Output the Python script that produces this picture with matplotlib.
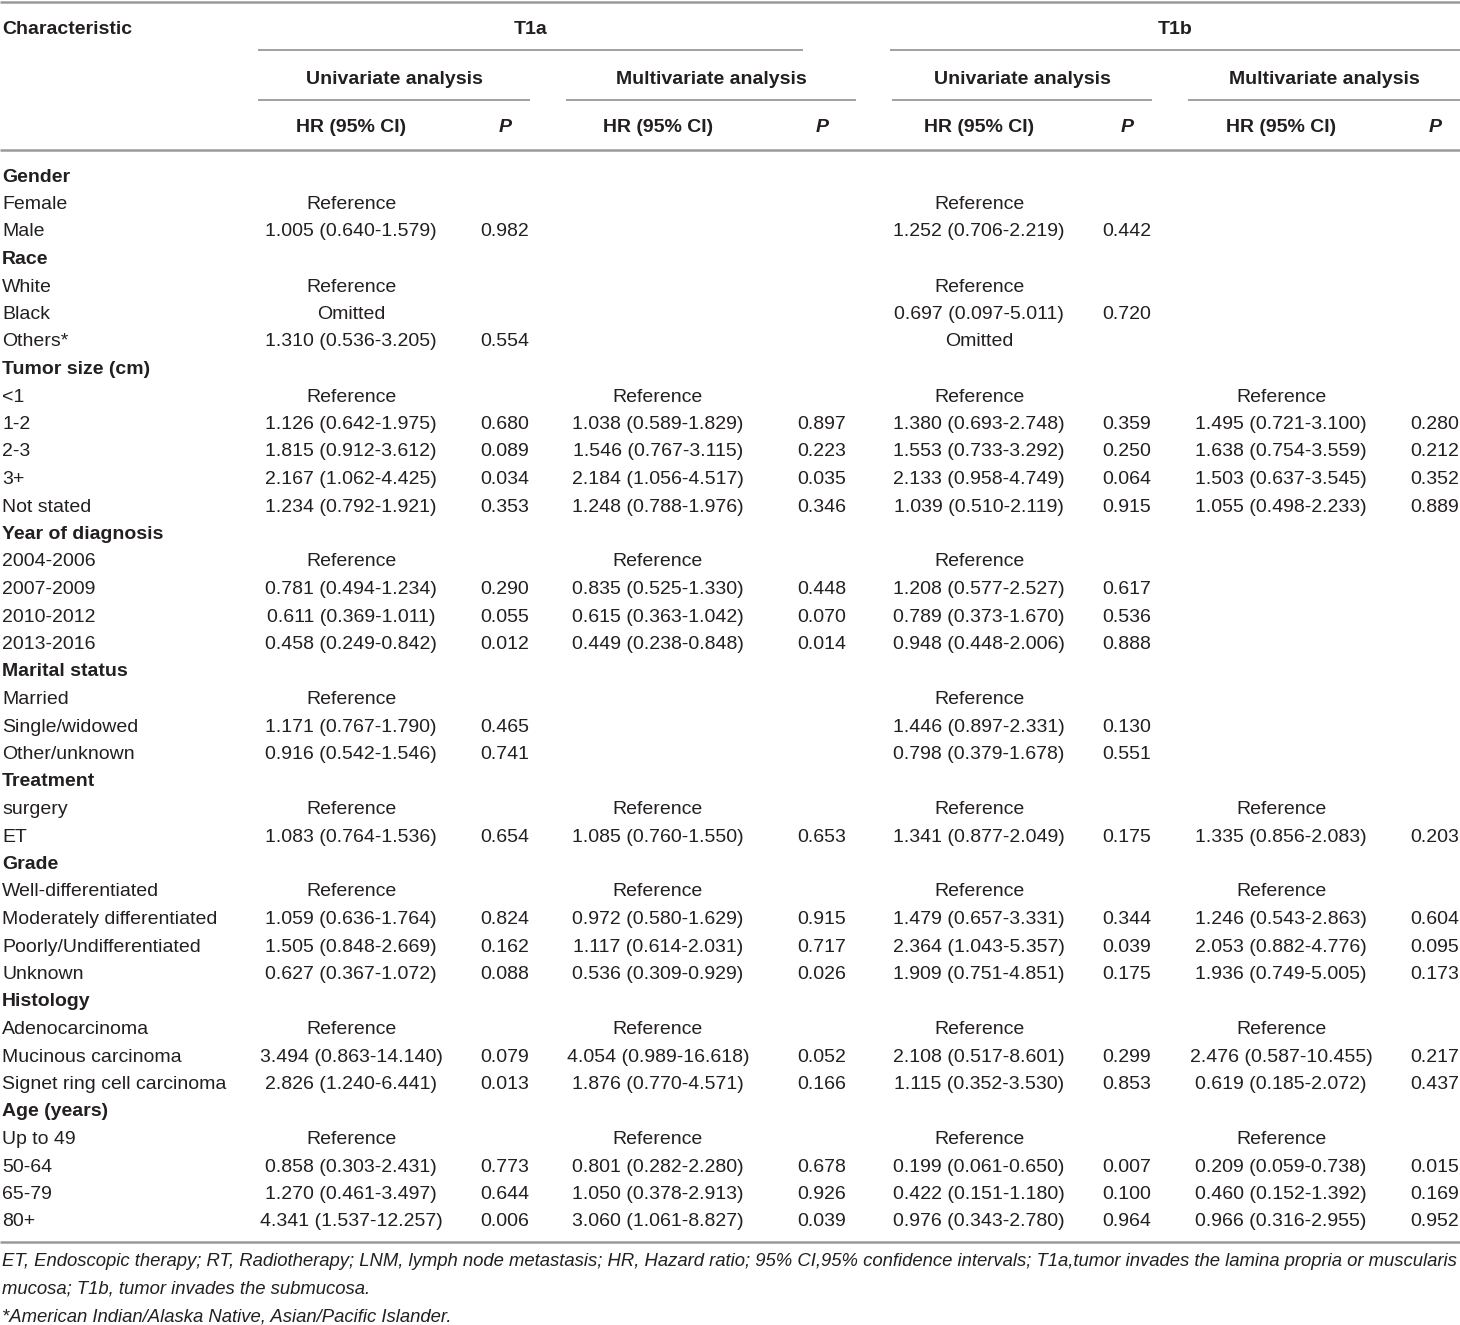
import matplotlib
matplotlib.use("Agg")
import matplotlib.pyplot as plt
from matplotlib import font_manager

names = {f.name for f in font_manager.fontManager.ttflist}
FONT = "Liberation Sans Narrow" if "Liberation Sans Narrow" in names else "Liberation Sans"
plt.rcParams["font.family"] = [FONT, "DejaVu Sans"]

# --- table content ---
row_labels = [
    "Gender", "Female", "Male",
    "Race", "White", "Black", "Others*",
    "Tumor size (cm)", "<1", "1-2", "2-3", "3+", "Not stated",
    "Year of diagnosis", "2004-2006", "2007-2009", "2010-2012", "2013-2016",
    "Marital status", "Married", "Single/widowed", "Other/unknown",
    "Treatment", "surgery", "ET",
    "Grade", "Well-differentiated", "Moderately differentiated",
    "Poorly/Undifferentiated", "Unknown",
    "Histology", "Adenocarcinoma", "Mucinous carcinoma", "Signet ring cell carcinoma",
    "Age (years)", "Up to 49", "50-64", "65-79", "80+",
]
group_rows = ["Gender", "Race", "Tumor size (cm)", "Year of diagnosis",
              "Marital status", "Treatment", "Grade", "Histology", "Age (years)"]

t1a_uni_hr = [
    "", "Reference", "1.005 (0.640-1.579)",
    "", "Reference", "Omitted", "1.310 (0.536-3.205)",
    "", "Reference", "1.126 (0.642-1.975)", "1.815 (0.912-3.612)", "2.167 (1.062-4.425)", "1.234 (0.792-1.921)",
    "", "Reference", "0.781 (0.494-1.234)", "0.611 (0.369-1.011)", "0.458 (0.249-0.842)",
    "", "Reference", "1.171 (0.767-1.790)", "0.916 (0.542-1.546)",
    "", "Reference", "1.083 (0.764-1.536)",
    "", "Reference", "1.059 (0.636-1.764)", "1.505 (0.848-2.669)", "0.627 (0.367-1.072)",
    "", "Reference", "3.494 (0.863-14.140)", "2.826 (1.240-6.441)",
    "", "Reference", "0.858 (0.303-2.431)", "1.270 (0.461-3.497)", "4.341 (1.537-12.257)",
]
t1a_uni_p = [
    "", "", "0.982",
    "", "", "", "0.554",
    "", "", "0.680", "0.089", "0.034", "0.353",
    "", "", "0.290", "0.055", "0.012",
    "", "", "0.465", "0.741",
    "", "", "0.654",
    "", "", "0.824", "0.162", "0.088",
    "", "", "0.079", "0.013",
    "", "", "0.773", "0.644", "0.006",
]
t1a_multi_hr = [
    "", "", "",
    "", "", "", "",
    "", "Reference", "1.038 (0.589-1.829)", "1.546 (0.767-3.115)", "2.184 (1.056-4.517)", "1.248 (0.788-1.976)",
    "", "Reference", "0.835 (0.525-1.330)", "0.615 (0.363-1.042)", "0.449 (0.238-0.848)",
    "", "", "", "",
    "", "Reference", "1.085 (0.760-1.550)",
    "", "Reference", "0.972 (0.580-1.629)", "1.117 (0.614-2.031)", "0.536 (0.309-0.929)",
    "", "Reference", "4.054 (0.989-16.618)", "1.876 (0.770-4.571)",
    "", "Reference", "0.801 (0.282-2.280)", "1.050 (0.378-2.913)", "3.060 (1.061-8.827)",
]
t1a_multi_p = [
    "", "", "",
    "", "", "", "",
    "", "", "0.897", "0.223", "0.035", "0.346",
    "", "", "0.448", "0.070", "0.014",
    "", "", "", "",
    "", "", "0.653",
    "", "", "0.915", "0.717", "0.026",
    "", "", "0.052", "0.166",
    "", "", "0.678", "0.926", "0.039",
]
t1b_uni_hr = [
    "", "Reference", "1.252 (0.706-2.219)",
    "", "Reference", "0.697 (0.097-5.011)", "Omitted",
    "", "Reference", "1.380 (0.693-2.748)", "1.553 (0.733-3.292)", "2.133 (0.958-4.749)", "1.039 (0.510-2.119)",
    "", "Reference", "1.208 (0.577-2.527)", "0.789 (0.373-1.670)", "0.948 (0.448-2.006)",
    "", "Reference", "1.446 (0.897-2.331)", "0.798 (0.379-1.678)",
    "", "Reference", "1.341 (0.877-2.049)",
    "", "Reference", "1.479 (0.657-3.331)", "2.364 (1.043-5.357)", "1.909 (0.751-4.851)",
    "", "Reference", "2.108 (0.517-8.601)", "1.115 (0.352-3.530)",
    "", "Reference", "0.199 (0.061-0.650)", "0.422 (0.151-1.180)", "0.976 (0.343-2.780)",
]
t1b_uni_p = [
    "", "", "0.442",
    "", "", "0.720", "",
    "", "", "0.359", "0.250", "0.064", "0.915",
    "", "", "0.617", "0.536", "0.888",
    "", "", "0.130", "0.551",
    "", "", "0.175",
    "", "", "0.344", "0.039", "0.175",
    "", "", "0.299", "0.853",
    "", "", "0.007", "0.100", "0.964",
]
t1b_multi_hr = [
    "", "", "",
    "", "", "", "",
    "", "Reference", "1.495 (0.721-3.100)", "1.638 (0.754-3.559)", "1.503 (0.637-3.545)", "1.055 (0.498-2.233)",
    "", "", "", "", "",
    "", "", "", "",
    "", "Reference", "1.335 (0.856-2.083)",
    "", "Reference", "1.246 (0.543-2.863)", "2.053 (0.882-4.776)", "1.936 (0.749-5.005)",
    "", "Reference", "2.476 (0.587-10.455)", "0.619 (0.185-2.072)",
    "", "Reference", "0.209 (0.059-0.738)", "0.460 (0.152-1.392)", "0.966 (0.316-2.955)",
]
t1b_multi_p = [
    "", "", "",
    "", "", "", "",
    "", "", "0.280", "0.212", "0.352", "0.889",
    "", "", "", "", "",
    "", "", "", "",
    "", "", "0.203",
    "", "", "0.604", "0.095", "0.173",
    "", "", "0.217", "0.437",
    "", "", "0.015", "0.169", "0.952",
]

footnotes = [
    "ET, Endoscopic therapy; RT, Radiotherapy; LNM, lymph node metastasis; HR, Hazard ratio; 95% CI,95% confidence intervals; T1a,tumor invades the lamina propria or muscularis",
    "mucosa; T1b, tumor invades the submucosa.",
    "*American Indian/Alaska Native, Asian/Pacific Islander.",
]

# --- layout (pixel coordinates) ---
W, H = 1460, 1325
fig = plt.figure(figsize=(W / 100, H / 100), dpi=100)
ax = fig.add_axes([0, 0, 1, 1])
ax.set_xlim(0, W)
ax.set_ylim(H, 0)
ax.axis("off")

FS = 14
TXT = "#231f20"
LINE = "#9a9a9a"

def hline(x0, x1, y, lw=1.3):
    ax.plot([x0, x1], [y, y], color=LINE, lw=lw, solid_capstyle="butt")

# rules
hline(0, W, 1.5, 1.8)
hline(258, 803, 50)
hline(890, W, 50)
for x0, x1 in [(258, 530), (566, 856), (892, 1152), (1188, W)]:
    hline(x0, x1, 100)
hline(0, W, 150, 1.8)
hline(0, W, 1242, 1.8)

# header
ax.text(2, 29, "Characteristic", fontsize=FS, fontweight="bold", color=TXT, va="center")
ax.text(531, 29, "T1a", fontsize=FS, fontweight="bold", color=TXT, va="center", ha="center")
ax.text(1175, 29, "T1b", fontsize=FS, fontweight="bold", color=TXT, va="center", ha="center")
for xc, lab in [(394, "Univariate analysis"), (711, "Multivariate analysis"),
                (1022, "Univariate analysis"), (1324, "Multivariate analysis")]:
    ax.text(xc, 79, lab, fontsize=FS, fontweight="bold", color=TXT, va="center", ha="center")

hr_x = [351, 658, 979, 1281]
p_x = [505, 822, 1127, 1435]
for xc in hr_x:
    ax.text(xc, 128, "HR (95% CI)", fontsize=FS, fontweight="bold", color=TXT, va="center", ha="center")
for xc in p_x:
    ax.text(xc, 128, "P", fontsize=FS, fontweight="bold", style="italic", color=TXT,
            va="center", ha="center")

# body
y0, dy = 177, 27.5
hr_cols = [t1a_uni_hr, t1a_multi_hr, t1b_uni_hr, t1b_multi_hr]
p_cols = [t1a_uni_p, t1a_multi_p, t1b_uni_p, t1b_multi_p]
for i, lab in enumerate(row_labels):
    y = y0 + i * dy
    bold = lab in group_rows
    ax.text(2, y, lab, fontsize=FS, fontweight="bold" if bold else "normal",
            color=TXT, va="center")
    for col, xc in zip(hr_cols, hr_x):
        if col[i]:
            ax.text(xc, y, col[i], fontsize=FS, color=TXT, va="center", ha="center")
    for col, xc in zip(p_cols, p_x):
        if col[i]:
            ax.text(xc, y, col[i], fontsize=FS, color=TXT, va="center", ha="center")

for k, line in enumerate(footnotes):
    ax.text(2, 1261 + k * 28, line, fontsize=13.35, style="italic", color=TXT, va="center")

fig.savefig("out.png", dpi=100)
